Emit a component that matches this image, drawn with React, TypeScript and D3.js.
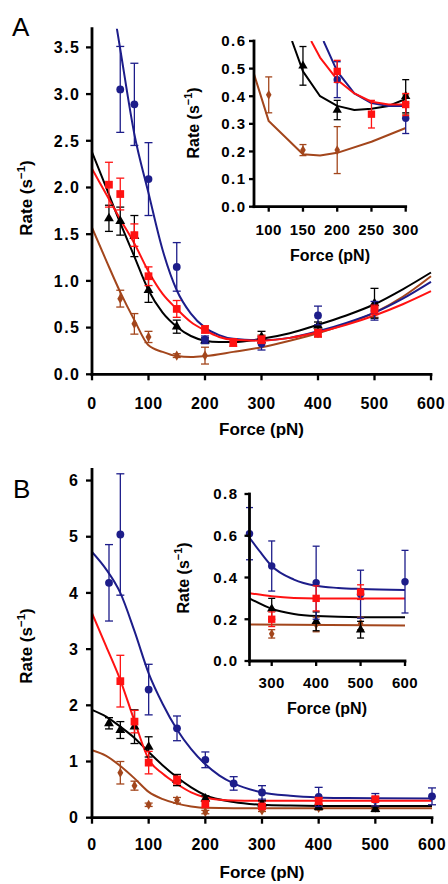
import React from 'react';
import * as d3 from 'd3';

const BLUE = '#1d1d8a';
const RED = '#ff1212';
const BLACK = '#000000';
const BROWN = '#a3461c';
const FONT = 'Liberation Sans, Arial, Helvetica, sans-serif';

type Pt = [number, number, number];
type CP = [number, number];

// ---------------- Panel A : main ----------------
const aXTicks = [0, 100, 200, 300, 400, 500, 600];
const aYTicks = [0, 0.5, 1, 1.5, 2, 2.5, 3, 3.5];
const aBluePts: Pt[] = [[50, 3.05, 0.46], [75, 2.89, 0.44], [100, 2.09, 0.39], [150, 1.15, 0.26], [200, 0.37, 0.04], [300, 0.33, 0.07], [400, 0.63, 0.1], [500, 0.68, 0.1]];
const aRedPts: Pt[] = [[30, 2.03, 0.24], [50, 1.93, 0.17], [75, 1.49, 0.12], [100, 1.05, 0.1], [150, 0.7, 0.09], [200, 0.48, 0.04], [250, 0.34, 0.04], [300, 0.37, 0.04], [400, 0.44, 0.04], [500, 0.69, 0.05]];
const aBlackPts: Pt[] = [[30, 1.67, 0.14], [50, 1.64, 0.15], [75, 1.48, 0.22], [100, 0.9, 0.13], [150, 0.51, 0.07], [200, 0.36, 0.03], [300, 0.4, 0.06], [400, 0.52, 0.04], [500, 0.76, 0.16]];
const aBrownPts: Pt[] = [[50, 0.81, 0.09], [75, 0.54, 0.11], [100, 0.4, 0.06], [150, 0.2, 0.02], [200, 0.2, 0.09], [300, 0.38, 0.04], [400, 0.44, 0.04], [500, 0.66, 0.05]];
const aBlueCurve: CP[] = [[40, 3.85], [50, 3.48], [75, 2.57], [100, 1.94], [125, 1.33], [150, 0.9], [175, 0.65], [200, 0.5], [225, 0.42], [250, 0.38], [300, 0.365], [350, 0.39], [400, 0.46], [450, 0.55], [500, 0.66], [550, 0.81], [600, 0.99]];
const aRedCurve: CP[] = [[0, 2.2], [25, 1.93], [50, 1.66], [75, 1.4], [100, 1.1], [125, 0.86], [150, 0.7], [175, 0.56], [200, 0.47], [225, 0.4], [250, 0.37], [300, 0.36], [350, 0.39], [400, 0.45], [450, 0.53], [500, 0.63], [550, 0.75], [600, 0.89]];
const aBlackCurve: CP[] = [[0, 2.38], [25, 2.0], [50, 1.62], [75, 1.26], [100, 0.9], [125, 0.66], [150, 0.51], [175, 0.41], [200, 0.36], [225, 0.345], [250, 0.345], [300, 0.38], [350, 0.44], [400, 0.53], [450, 0.63], [500, 0.75], [550, 0.91], [600, 1.09]];
const aBrownCurve: CP[] = [[0, 1.57], [25, 1.22], [50, 0.88], [75, 0.58], [100, 0.31], [125, 0.24], [150, 0.195], [175, 0.185], [200, 0.195], [250, 0.24], [300, 0.29], [350, 0.36], [400, 0.44], [450, 0.54], [500, 0.66], [550, 0.83], [600, 1.05]];

// ---------------- Panel A : inset ----------------
const aiXTicks = [100, 150, 200, 250, 300];
const aiYTicks = [0, 0.1, 0.2, 0.3, 0.4, 0.5, 0.6];
const aiBluePts: Pt[] = [[200, 0.46, 0.065], [300, 0.32, 0.055]];
const aiRedPts: Pt[] = [[200, 0.49, 0.04], [250, 0.335, 0.05], [300, 0.37, 0.04]];
const aiBlackPts: Pt[] = [[150, 0.51, 0.07], [200, 0.35, 0.035], [300, 0.4, 0.06]];
const aiBrownPts: Pt[] = [[100, 0.405, 0.065], [150, 0.205, 0.02], [200, 0.205, 0.085], [300, 0.37, 0.035]];
const aiBlueCurve: CP[] = [[180, 0.6], [200, 0.49], [225, 0.41], [250, 0.375], [275, 0.365], [300, 0.365]];
const aiRedCurve: CP[] = [[162, 0.6], [175, 0.54], [200, 0.46], [225, 0.41], [250, 0.38], [275, 0.37], [300, 0.37]];
const aiBlackCurve: CP[] = [[134, 0.6], [150, 0.49], [175, 0.4], [200, 0.365], [225, 0.35], [250, 0.355], [275, 0.365], [300, 0.39]];
const aiBrownCurve: CP[] = [[78.5, 0.48], [100, 0.31], [150, 0.19], [175, 0.185], [200, 0.195], [250, 0.235], [300, 0.285]];

// ---------------- Panel B : main ----------------
const bXTicks = [0, 100, 200, 300, 400, 500, 600];
const bYTicks = [0, 1, 2, 3, 4, 5, 6];
const bBluePts: Pt[] = [[30, 4.18, 0.68], [50, 5.04, 1.08], [100, 2.28, 0.45], [150, 1.59, 0.22], [200, 1.03, 0.14], [250, 0.61, 0.12], [300, 0.45, 0.12], [400, 0.37, 0.17], [500, 0.32, 0.11], [600, 0.38, 0.15]];
const bRedPts: Pt[] = [[50, 2.43, 0.46], [75, 1.71, 0.2], [100, 0.98, 0.2], [150, 0.67, 0.07], [200, 0.24, 0.06], [300, 0.2, 0.04], [400, 0.3, 0.06], [500, 0.33, 0.04]];
const bBlackPts: Pt[] = [[30, 1.68, 0.1], [50, 1.56, 0.15], [75, 1.62, 0.3], [100, 1.26, 0.18], [150, 0.67, 0.1], [200, 0.34, 0.05], [300, 0.25, 0.05], [400, 0.19, 0.045], [500, 0.15, 0.04]];
const bBrownPts: Pt[] = [[50, 0.8, 0.2], [75, 0.57, 0.08], [100, 0.23, 0.03], [150, 0.31, 0.05], [200, 0.1, 0.03], [300, 0.13, 0.02], [400, 0.175, 0.035], [500, 0.18, 0.03]];
const bBlueCurve: CP[] = [[0, 4.73], [25, 4.42], [50, 4.0], [75, 3.32], [100, 2.57], [125, 2.02], [150, 1.57], [175, 1.22], [200, 0.95], [225, 0.75], [250, 0.61], [300, 0.45], [350, 0.39], [400, 0.36], [450, 0.35], [500, 0.345], [600, 0.34]];
const bRedCurve: CP[] = [[0, 3.64], [25, 3.05], [50, 2.45], [75, 1.72], [100, 1.04], [125, 0.78], [150, 0.6], [175, 0.45], [200, 0.36], [225, 0.32], [250, 0.305], [300, 0.3], [400, 0.3], [600, 0.3]];
const bBlackCurve: CP[] = [[0, 1.92], [25, 1.8], [50, 1.62], [75, 1.42], [100, 1.17], [125, 0.93], [150, 0.72], [175, 0.54], [200, 0.4], [250, 0.28], [300, 0.23], [350, 0.215], [400, 0.21], [600, 0.21]];
const bBrownCurve: CP[] = [[0, 1.2], [25, 1.1], [50, 0.92], [75, 0.7], [100, 0.46], [125, 0.33], [150, 0.25], [175, 0.2], [200, 0.175], [250, 0.17], [600, 0.17]];

// ---------------- Panel B : inset ----------------
const biXTicks = [250, 300, 400, 500, 600];
const biXLabels = [300, 400, 500, 600];
const biYTicks = [0, 0.2, 0.4, 0.6, 0.8];
const biBluePts: Pt[] = [[250, 0.61, 0.125], [300, 0.455, 0.12], [400, 0.375, 0.175], [500, 0.32, 0.115], [600, 0.38, 0.15]];
const biRedPts: Pt[] = [[300, 0.2, 0.035], [400, 0.3, 0.06], [500, 0.33, 0.035]];
const biBlackPts: Pt[] = [[300, 0.25, 0.05], [400, 0.19, 0.045], [500, 0.15, 0.04]];
const biBrownPts: Pt[] = [[300, 0.13, 0.02], [400, 0.175, 0.035], [500, 0.18, 0.03]];
const biBlueCurve: CP[] = [[250, 0.59], [275, 0.52], [300, 0.455], [350, 0.39], [400, 0.36], [450, 0.35], [500, 0.345], [600, 0.34]];
const biRedCurve: CP[] = [[250, 0.325], [300, 0.31], [350, 0.302], [400, 0.3], [600, 0.3]];
const biBlackCurve: CP[] = [[250, 0.3], [300, 0.25], [350, 0.225], [400, 0.215], [500, 0.21], [600, 0.21]];
const biBrownCurve: CP[] = [[250, 0.175], [600, 0.17]];

type Shape = 'circle' | 'square' | 'triangle' | 'diamond';
interface Series { color: string; shape: Shape; pts: Pt[]; curve: CP[] }

const symType: Record<Shape, d3.SymbolType> = {
  circle: d3.symbolCircle,
  square: d3.symbolSquare,
  triangle: d3.symbolTriangle,
  diamond: d3.symbolDiamond,
};
const symSize: Record<Shape, number> = { circle: 48, square: 60, triangle: 42, diamond: 30 };

interface PlotProps {
  id: string;
  xr: [number, number];
  yr: [number, number];
  xd: [number, number];
  yd: [number, number];
  xTicks: number[];
  xLabels: number[];
  yTicks: number[];
  yFmt: (v: number) => string;
  yLetter: number;
  tickLen: number;
  tickFont: number;
  titleFont: number;
  xLabelBase: number;
  yLabelRight: number;
  xTitle: [number, number];
  yTitle: [number, number];
  series: Series[];
  curve: d3.CurveFactory;
  lineW: number;
  capW: number;
  markScale: number;
}

function Plot(p: PlotProps) {
  const x = d3.scaleLinear().domain(p.xd).range(p.xr);
  const y = d3.scaleLinear().domain(p.yd).range(p.yr);
  const line = d3.line<CP>().x((d) => x(d[0])).y((d) => y(d[1])).curve(p.curve);
  const y0 = y(p.yd[0]);
  const x0 = x(p.xd[0]);
  const clipId = `clip-${p.id}`;
  return (
    <g>
      <defs>
        <clipPath id={clipId}>
          <rect x={p.xr[0]} y={p.yr[1]} width={p.xr[1] - p.xr[0] + 4} height={p.yr[0] - p.yr[1]} />
        </clipPath>
      </defs>
      <g clipPath={`url(#${clipId})`}>
        {p.series.map((s, i) => (
          <path key={i} d={line(s.curve) || ''} fill="none" stroke={s.color} strokeWidth={p.lineW} strokeLinejoin="round" />
        ))}
      </g>
      {p.series.map((s, i) => (
        <g key={i}>
          {s.pts.map((d, j) => {
            const cx = x(d[0]);
            const top = y(d[1] + d[2]);
            const bot = y(d[1] - d[2]);
            return (
              <g key={j} stroke={s.color} strokeWidth={1.3} fill="none">
                <line x1={cx} x2={cx} y1={top} y2={bot} />
                <line x1={cx - p.capW / 2} x2={cx + p.capW / 2} y1={top} y2={top} />
                <line x1={cx - p.capW / 2} x2={cx + p.capW / 2} y1={bot} y2={bot} />
              </g>
            );
          })}
          {s.pts.map((d, j) => (
            <path
              key={`m${j}`}
              transform={`translate(${x(d[0])},${y(d[1])})`}
              d={d3.symbol().type(symType[s.shape]).size(symSize[s.shape] * p.markScale)() || ''}
              fill={s.color}
            />
          ))}
        </g>
      ))}
      <g stroke="#000" strokeWidth={2.8} strokeLinecap="square">
        <line x1={x0} x2={x0} y1={p.yr[1]} y2={y0} />
        <line x1={x0} x2={p.xr[1]} y1={y0} y2={y0} />
      </g>
      <g stroke="#000" strokeWidth={2.3}>
        {p.yTicks.map((t) => (
          <line key={t} x1={x0 - p.tickLen} x2={x0} y1={y(t)} y2={y(t)} />
        ))}
        {p.xTicks.map((t) => (
          <line key={t} x1={x(t)} x2={x(t)} y1={y0} y2={y0 + p.tickLen} />
        ))}
      </g>
      <g fontFamily={FONT} fontWeight="bold" fontSize={p.tickFont} fill="#000">
        {p.yTicks.map((t) => (
          <text key={t} x={p.yLabelRight + p.yLetter} y={y(t)} dy="0.36em" textAnchor="end" letterSpacing={p.yLetter}>{p.yFmt(t)}</text>
        ))}
        {p.xLabels.map((t) => (
          <text key={t} x={x(t)} y={p.xLabelBase} textAnchor="middle" letterSpacing={0.4}>{t}</text>
        ))}
      </g>
      <g fontFamily={FONT} fontWeight="bold" fontSize={p.titleFont} fill="#000">
        <text x={p.xTitle[0]} y={p.xTitle[1]} textAnchor="middle">Force (pN)</text>
        <text transform={`translate(${p.yTitle[0]},${p.yTitle[1]}) rotate(-90)`} textAnchor="middle">
          Rate (s<tspan dy={-7} fontSize={p.titleFont * 0.68}>−1</tspan><tspan dy={7}>)</tspan>
        </text>
      </g>
    </g>
  );
}

const f1 = d3.format('.1f');
const f0 = d3.format('d');

export default function App() {
  const aSeries: Series[] = [
    { color: BROWN, shape: 'diamond', pts: aBrownPts, curve: aBrownCurve },
    { color: BLACK, shape: 'triangle', pts: aBlackPts, curve: aBlackCurve },
    { color: BLUE, shape: 'circle', pts: aBluePts, curve: aBlueCurve },
    { color: RED, shape: 'square', pts: aRedPts, curve: aRedCurve },
  ];
  const aiSeries: Series[] = [
    { color: BROWN, shape: 'diamond', pts: aiBrownPts, curve: aiBrownCurve },
    { color: BLACK, shape: 'triangle', pts: aiBlackPts, curve: aiBlackCurve },
    { color: BLUE, shape: 'circle', pts: aiBluePts, curve: aiBlueCurve },
    { color: RED, shape: 'square', pts: aiRedPts, curve: aiRedCurve },
  ];
  const bSeries: Series[] = [
    { color: BROWN, shape: 'diamond', pts: bBrownPts, curve: bBrownCurve },
    { color: BLACK, shape: 'triangle', pts: bBlackPts, curve: bBlackCurve },
    { color: BLUE, shape: 'circle', pts: bBluePts, curve: bBlueCurve },
    { color: RED, shape: 'square', pts: bRedPts, curve: bRedCurve },
  ];
  const biSeries: Series[] = [
    { color: BROWN, shape: 'diamond', pts: biBrownPts, curve: biBrownCurve },
    { color: BLACK, shape: 'triangle', pts: biBlackPts, curve: biBlackCurve },
    { color: BLUE, shape: 'circle', pts: biBluePts, curve: biBlueCurve },
    { color: RED, shape: 'square', pts: biRedPts, curve: biRedCurve },
  ];
  return (
    <svg width={448} height={884} style={{ position: 'absolute', left: 0, top: 0, background: '#fff' }}>
      <rect width={448} height={884} fill="#fff" />
      <text x={12} y={36} fontFamily={FONT} fontSize={26} fill="#000">A</text>
      <text x={13} y={498} fontFamily={FONT} fontSize={26} fill="#000">B</text>
      <Plot id="a" xr={[92, 431]} yr={[374.3, 28.7]} xd={[0, 600]} yd={[0, 3.7]}
        xTicks={aXTicks} xLabels={aXTicks} yTicks={aYTicks} yFmt={f1} yLetter={1.5}
        tickLen={6} tickFont={16} titleFont={17} xLabelBase={408.5} yLabelRight={79}
        xTitle={[261.5, 435]} yTitle={[32, 198]} series={aSeries} curve={d3.curveMonotoneX}
        lineW={2} capW={8} markScale={1} />
      <Plot id="ai" xr={[254, 405.7]} yr={[206.7, 41]} xd={[78.5, 300]} yd={[0, 0.6]}
        xTicks={aiXTicks} xLabels={aiXTicks} yTicks={aiYTicks} yFmt={f1} yLetter={1.5}
        tickLen={5} tickFont={15} titleFont={16} xLabelBase={235} yLabelRight={245}
        xTitle={[330, 261]} yTitle={[199, 123]} series={aiSeries} curve={d3.curveLinear}
        lineW={2} capW={7} markScale={0.9} />
      <Plot id="b" xr={[92, 432]} yr={[817.7, 469.3]} xd={[0, 600]} yd={[0, 6.2]}
        xTicks={bXTicks} xLabels={bXTicks} yTicks={bYTicks} yFmt={f0} yLetter={0}
        tickLen={6} tickFont={16} titleFont={17} xLabelBase={850} yLabelRight={78}
        xTitle={[262, 878]} yTitle={[32, 646]} series={bSeries} curve={d3.curveMonotoneX}
        lineW={2} capW={8} markScale={1} />
      <Plot id="bi" xr={[249.5, 405]} yr={[661, 494]} xd={[250, 600]} yd={[0, 0.8]}
        xTicks={biXTicks} xLabels={biXLabels} yTicks={biYTicks} yFmt={f1} yLetter={1.5}
        tickLen={5} tickFont={15} titleFont={16} xLabelBase={688} yLabelRight={237}
        xTitle={[327, 714]} yTitle={[189, 578]} series={biSeries} curve={d3.curveMonotoneX}
        lineW={2} capW={7} markScale={0.9} />
    </svg>
  );
}
